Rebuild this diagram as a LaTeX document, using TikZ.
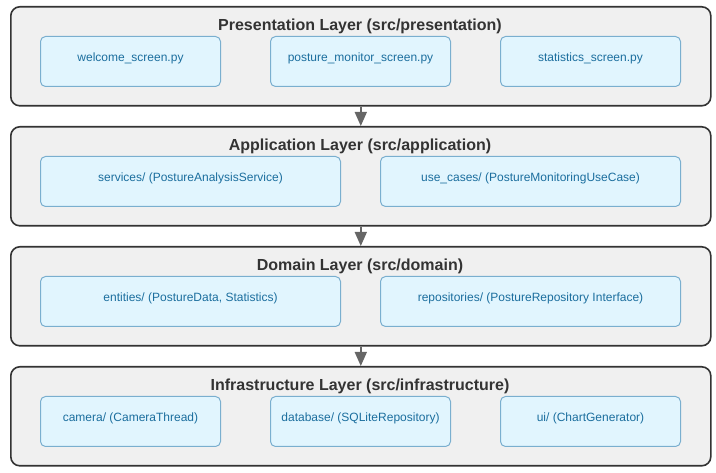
\documentclass[tikz,border=0pt]{standalone}
\usepackage{fontspec}
\setmainfont{Liberation Sans}
\usetikzlibrary{arrows.meta}
\definecolor{layerfill}{HTML}{F0F0F0}
\definecolor{layerline}{HTML}{333333}
\definecolor{modfill}{HTML}{E1F5FE}
\definecolor{modline}{HTML}{7AAFCF}
\definecolor{modtext}{HTML}{1B6E9E}
\definecolor{flowgray}{HTML}{666666}

\begin{document}
\begin{tikzpicture}[x=1pt,y=1pt,yscale=-1,
    layer/.style={draw=layerline, fill=layerfill, line width=1.6, rounded corners=9,
        minimum width=700, minimum height=99, inner sep=0, anchor=north west},
    layertitle/.style={font=\bfseries\fontsize{16}{19}\selectfont, text=layerline, anchor=base},
    module/.style={draw=modline, fill=modfill, line width=1, rounded corners=5,
        minimum height=50, inner sep=0, anchor=north west, text=modtext,
        text height=8, text depth=7, font=\fontsize{12}{14}\selectfont},
    flow/.style={flowgray, line width=1.5, -{Triangle[width=12,length=14]}}]
    \useasboundingbox (0,0) rectangle (716,473);
    % layer boxes
    \node [layer] (pres) at (10,6) {};
    \node [layer] (app) at (10,126) {};
    \node [layer] (dom) at (10,246) {};
    \node [layer] (infra) at (10,366) {};
    % titles
    \node [layertitle] (presT) at (360,31) {Presentation Layer (src/presentation)};
    \node [layertitle] (appT) at (360,151) {Application Layer (src/application)};
    \node [layertitle] (domT) at (360,271) {Domain Layer (src/domain)};
    \node [layertitle] (infraT) at (360,391) {Infrastructure Layer (src/infrastructure)};
    % presentation modules
    \node [module, minimum width=180] (welcome) at (40,36) {welcome\_screen.py};
    \node [module, minimum width=180] (monitor) at (270,36) {posture\_monitor\_screen.py};
    \node [module, minimum width=180] (stats) at (500,36) {statistics\_screen.py};
    % application modules
    \node [module, minimum width=300] (services) at (40,156) {services/ (PostureAnalysisService)};
    \node [module, minimum width=300] (usecases) at (380,156) {use\_cases/ (PostureMonitoringUseCase)};
    % domain modules
    \node [module, minimum width=300] (entities) at (40,276) {entities/ (PostureData, Statistics)};
    \node [module, minimum width=300] (repos) at (380,276) {repositories/ (PostureRepository Interface)};
    % infrastructure modules
    \node [module, minimum width=180] (camera) at (40,396) {camera/ (CameraThread)};
    \node [module, minimum width=180] (database) at (270,396) {database/ (SQLiteRepository)};
    \node [module, minimum width=180] (chart) at (500,396) {ui/ (ChartGenerator)};
    % dependencies
    \draw [flow] (pres.south) -- (app.north);
    \draw [flow] (app.south) -- (dom.north);
    \draw [flow] (dom.south) -- (infra.north);
\end{tikzpicture}
\end{document}
